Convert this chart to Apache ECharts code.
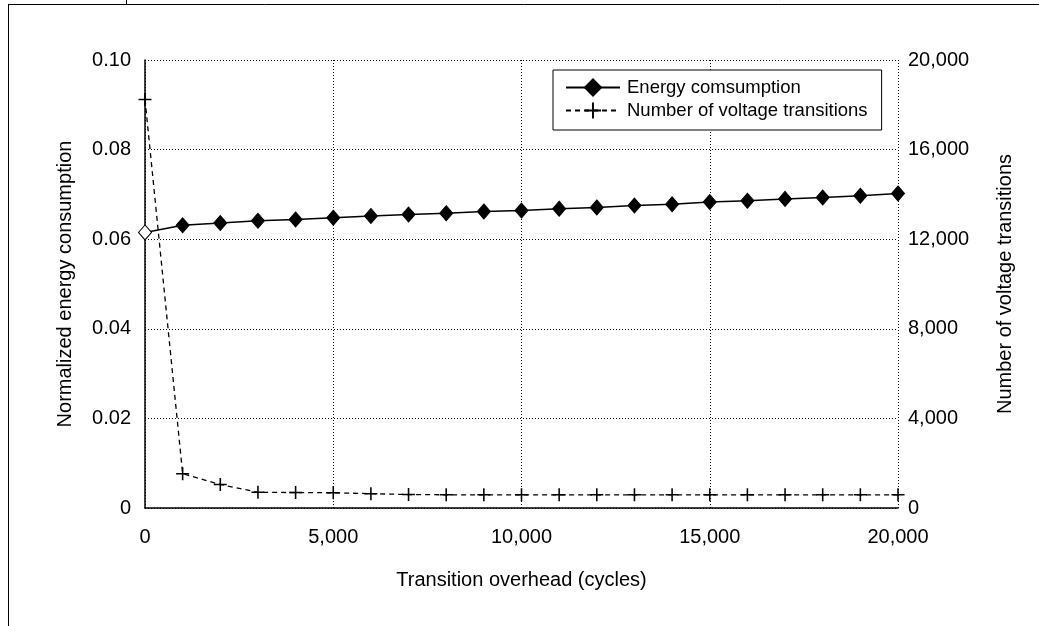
<!DOCTYPE html>
<html><head><meta charset="utf-8">
<script src="https://cdn.jsdelivr.net/npm/echarts@6/dist/echarts.min.js"></script>
<style>html,body{margin:0;padding:0;background:#fff}#c{width:1039px;height:626px}</style>
</head><body><div id="c"></div>
<script>
const overhead = [0,1000,2000,3000,4000,5000,6000,7000,8000,9000,10000,11000,12000,13000,14000,15000,16000,17000,18000,19000,20000];
const energy = [0.0615,0.0631,0.0636,0.0641,0.0644,0.0648,0.0652,0.0655,0.0658,0.0662,0.0664,0.0668,0.0671,0.0675,0.0678,0.0683,0.0686,0.0690,0.0693,0.0697,0.0702];
const transitions = [18240,1530,1050,700,690,680,640,600,590,590,590,590,590,590,590,590,590,590,590,590,590];
const xTicks = [0,5000,10000,15000,20000];
const FONT = '"Liberation Sans", Arial, sans-serif';
const FS = 20;
const fmt = v => v.toLocaleString('en-US');
const chart = echarts.init(document.getElementById('c'), null, {renderer:'canvas'});
const plus = 'path://M0,8.8h20v2.4h-20z M8.8,0h2.4v20h-2.4z';
chart.setOption({
  animation:false,
  textStyle:{fontFamily:FONT,color:'#000'},
  grid:{left:145, top:60, width:753, height:448, containLabel:false},
  graphic:[
    {type:'line', shape:{x1:8,y1:4.5,x2:1039,y2:4.5}, style:{stroke:'#000',lineWidth:1}},
    {type:'line', shape:{x1:8.5,y1:4,x2:8.5,y2:626}, style:{stroke:'#000',lineWidth:1}},
    {type:'line', shape:{x1:126.5,y1:0,x2:126.5,y2:4}, style:{stroke:'#000',lineWidth:1}}
  ],
  legend:{
    left:553, top:70, orient:'vertical',
    padding:[8,14,10,12], itemGap:4, itemWidth:54, itemHeight:20,
    borderColor:'#000', borderWidth:1, backgroundColor:'#fff',
    textStyle:{fontFamily:FONT,fontSize:18.5,color:'#000',padding:[0,0,0,2]},
    data:['Energy comsumption','Number of voltage transitions']
  },
  xAxis:{
    type:'value', min:0, max:20000, interval:5000,
    name:'Transition overhead (cycles)', nameLocation:'middle', nameGap:62,
    nameTextStyle:{fontFamily:FONT,fontSize:FS,color:'#000'},
    axisLine:{show:true,lineStyle:{color:'#000',width:1.5}},
    axisTick:{show:false},
    axisLabel:{fontFamily:FONT,fontSize:FS,color:'#000',margin:19,formatter:v=>fmt(v)},
    splitLine:{show:true,lineStyle:{color:'#000',type:[1,2],width:1}}
  },
  yAxis:[
    {type:'value', min:0, max:0.1, interval:0.02, position:'left',
     name:'Normalized energy consumption', nameLocation:'middle', nameGap:70, nameRotate:90,
     nameTextStyle:{fontFamily:FONT,fontSize:FS,color:'#000'},
     axisLine:{show:true,lineStyle:{color:'#000',width:1.5}},
     axisTick:{show:false},
     axisLabel:{fontFamily:FONT,fontSize:FS,color:'#000',margin:14,formatter:v=>v===0?'0':v.toFixed(2)},
     splitLine:{show:true,lineStyle:{color:'#000',type:[1,2],width:1}}},
    {type:'value', min:0, max:20000, interval:4000, position:'right',
     name:'Number of voltage transitions', nameLocation:'middle', nameGap:97, nameRotate:90,
     nameTextStyle:{fontFamily:FONT,fontSize:FS,color:'#000'},
     axisLine:{show:false}, axisTick:{show:false},
     axisLabel:{fontFamily:FONT,fontSize:FS,color:'#000',margin:10,formatter:v=>fmt(v)},
     splitLine:{show:false}}
  ],
  series:[
    {name:'Energy comsumption', type:'line', yAxisIndex:0,
     symbol:'diamond', symbolSize:[13,15],
     lineStyle:{color:'#000',width:1.5},
     itemStyle:{color:'#000',borderColor:'#000',borderWidth:1},
     data:overhead.map((x,i)=> i===0 ? {value:[x,energy[i]], itemStyle:{color:'#fff',borderColor:'#000',borderWidth:1}} : [x,energy[i]]),
     z:3},
    {name:'Number of voltage transitions', type:'line', yAxisIndex:1,
     symbol:plus, symbolSize:13,
     lineStyle:{color:'#000',width:1.3,type:[5,4]},
     itemStyle:{color:'#000',borderWidth:0},
     data:overhead.map((x,i)=>[x,transitions[i]]),
     z:2}
  ]
});
</script></body></html>
